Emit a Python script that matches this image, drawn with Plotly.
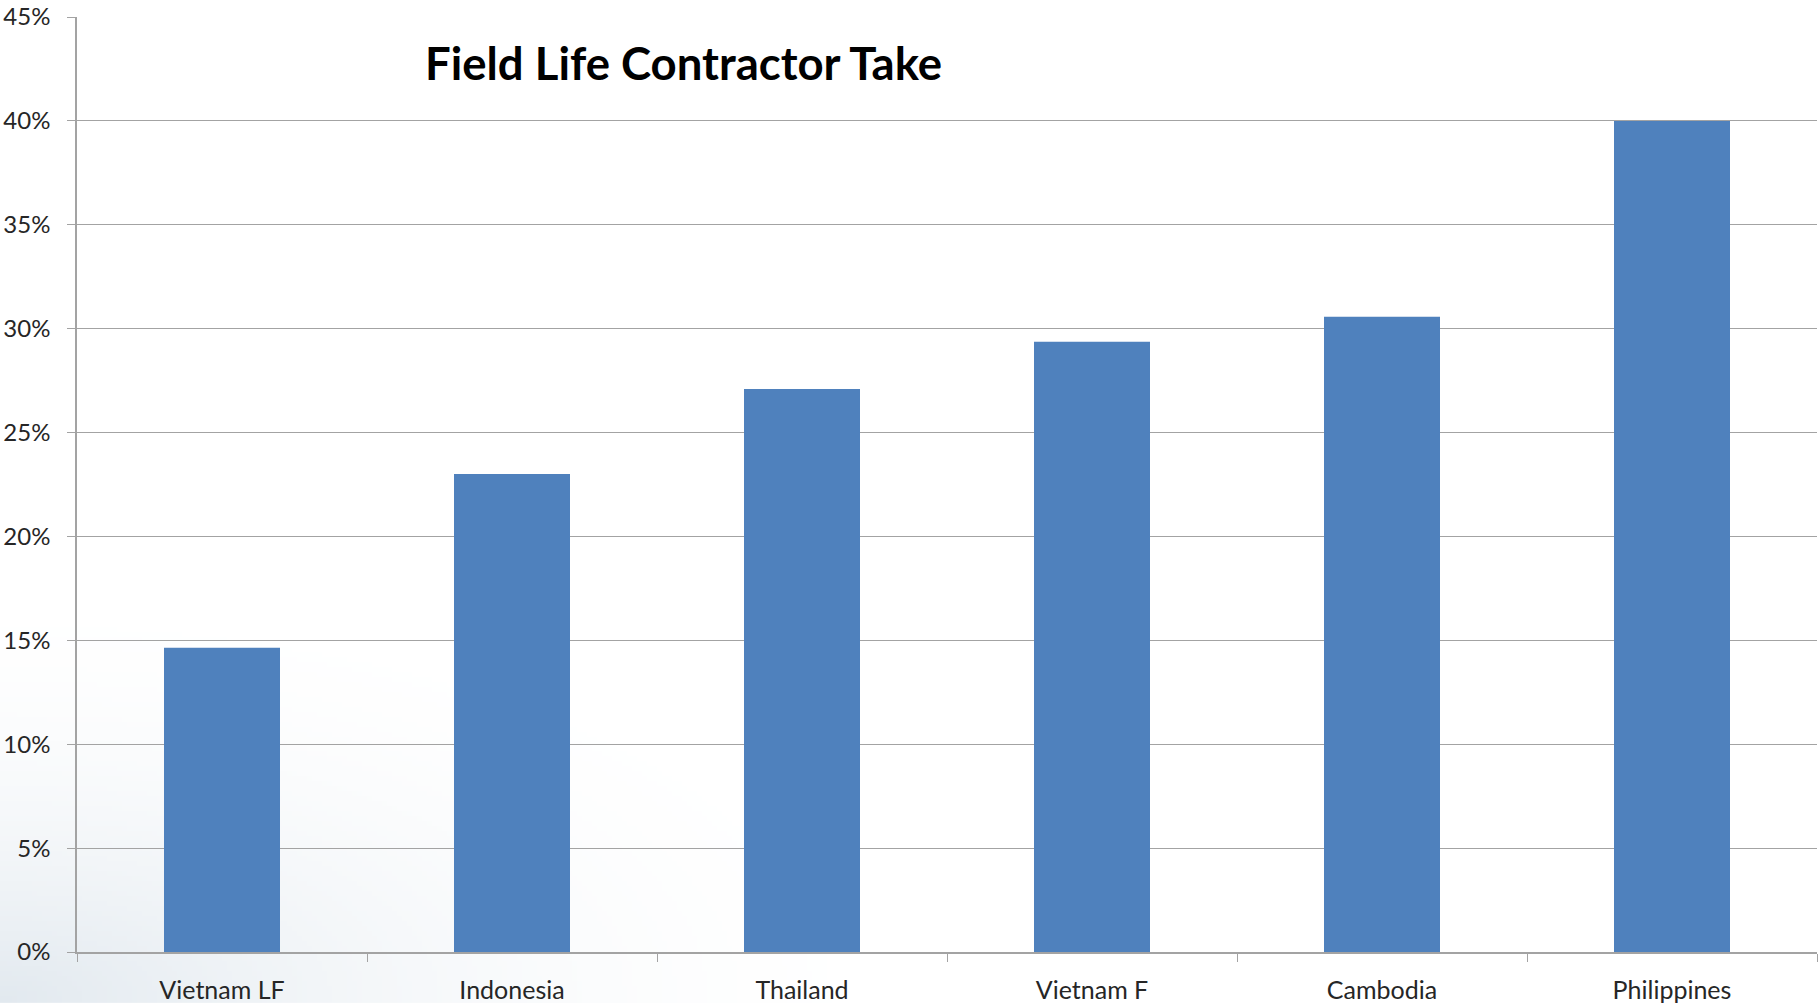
import base64
import struct
import zlib

import plotly.graph_objects as go

# Contractor share of field-life revenue by fiscal regime
categories = ["Vietnam LF", "Indonesia", "Thailand", "Vietnam F", "Cambodia", "Philippines"]
contractor_take = [0.1464, 0.2300, 0.2710, 0.2937, 0.3057, 0.4000]
y_tick_values = [0, 0.05, 0.10, 0.15, 0.20, 0.25, 0.30, 0.35, 0.40, 0.45]
y_tick_labels = ["0%", "5%", "10%", "15%", "20%", "25%", "30%", "35%", "40%", "45%"]

W, H = 1818, 1005
M_L, M_R, M_T, M_B = 77, 1, 16, 51
PLOT_W = W - M_L - M_R
PLOT_H = H - M_T - M_B

GRID = "#a3a3a3"
TEXT = "#262626"
FONT = "Lato"


def soft_corner_png(w, h, corner=(226, 233, 239)):
    """Small PNG with a pale blue-grey glow rising from the lower-left corner."""
    rows = []
    for j in range(h):
        row = bytearray([0])
        for i in range(w):
            dx = i / w * W / 950.0
            dy = (h - 1 - j) / h * H / 430.0
            d = (dx * dx + dy * dy) ** 0.5
            t = min(1.0, d)
            t = t * (2 - t)
            for c in corner:
                row.append(int(round(c + (255 - c) * t)))
        rows.append(bytes(row))
    raw = b"".join(rows)

    def chunk(tag, data):
        body = tag + data
        return struct.pack(">I", len(data)) + body + struct.pack(">I", zlib.crc32(body) & 0xFFFFFFFF)

    png = b"\x89PNG\r\n\x1a\n"
    png += chunk(b"IHDR", struct.pack(">IIBBBBB", w, h, 8, 2, 0, 0, 0))
    png += chunk(b"IDAT", zlib.compress(raw, 9))
    png += chunk(b"IEND", b"")
    return "data:image/png;base64," + base64.b64encode(png).decode()


fig = go.Figure(
    go.Bar(
        x=categories,
        y=contractor_take,
        marker=dict(color="#4f81bd", line=dict(width=0)),
        hovertemplate="%{x}: %{y:.1%}<extra></extra>",
    )
)

fig.add_layout_image(
    dict(
        source=soft_corner_png(364, 201),
        xref="paper",
        yref="paper",
        x=-M_L / PLOT_W,
        y=1 + M_T / PLOT_H,
        sizex=W / PLOT_W,
        sizey=H / PLOT_H,
        xanchor="left",
        yanchor="top",
        sizing="stretch",
        layer="below",
    )
)

fig.add_annotation(
    text="<b>Field Life Contractor Take</b>",
    xref="paper",
    yref="paper",
    x=(423 - M_L) / PLOT_W,
    y=1 - (62 - M_T) / PLOT_H,
    xanchor="left",
    yanchor="middle",
    showarrow=False,
    font=dict(family=FONT, size=45.5, color="#000000"),
)

fig.update_layout(
    width=W,
    height=H,
    margin=dict(l=M_L, r=M_R, t=M_T, b=M_B, pad=0),
    paper_bgcolor="#ffffff",
    plot_bgcolor="rgba(0,0,0,0)",
    bargap=0.6,
    showlegend=False,
    font=dict(family=FONT, size=24, color=TEXT),
)

fig.update_xaxes(
    type="category",
    tickson="boundaries",
    ticks="outside",
    ticklen=8,
    tickwidth=1.3,
    tickcolor=GRID,
    showline=True,
    linecolor=GRID,
    linewidth=1.5,
    showgrid=False,
    ticklabelstandoff=15,
    tickfont=dict(family=FONT, size=25, color=TEXT),
)

fig.update_yaxes(
    range=[0, 0.45],
    tickvals=y_tick_values,
    ticktext=y_tick_labels,
    ticks="outside",
    ticklen=8,
    tickwidth=1.3,
    tickcolor=GRID,
    showline=True,
    linecolor=GRID,
    linewidth=1.5,
    showgrid=True,
    gridcolor=GRID,
    gridwidth=1.4,
    zeroline=False,
    ticklabelstandoff=12,
    tickfont=dict(family=FONT, size=24, color=TEXT),
)

fig.write_html("out.html")
